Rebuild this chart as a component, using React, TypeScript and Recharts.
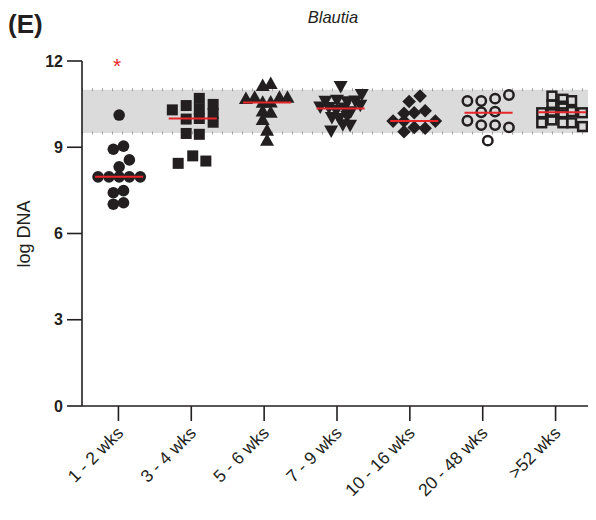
import React from 'react';
import { ScatterChart, Scatter, XAxis, YAxis, ReferenceArea, ReferenceLine } from 'recharts';

const categories = ['1 - 2 wks', '3 - 4 wks', '5 - 6 wks', '7 - 9 wks', '10 - 16 wks', '20 - 48 wks', '>52 wks'];
const xTicks = [1, 2, 3, 4, 5, 6, 7];
const yTicks = [0, 3, 6, 9, 12];

const wk1to2 = [
  { x: 1.01, y: 10.12 }, { x: 0.93, y: 8.93 }, { x: 1.07, y: 9.04 }, { x: 1.15, y: 8.56 },
  { x: 1.01, y: 8.32 }, { x: 0.72, y: 7.97 }, { x: 0.87, y: 7.97 }, { x: 1.01, y: 7.97 },
  { x: 1.15, y: 7.97 }, { x: 1.30, y: 7.97 }, { x: 0.93, y: 7.42 }, { x: 1.07, y: 7.49 },
  { x: 0.93, y: 7.02 }, { x: 1.07, y: 7.07 },
];
const wk3to4 = [
  { x: 1.74, y: 10.30 }, { x: 1.93, y: 10.45 }, { x: 1.93, y: 9.98 }, { x: 1.93, y: 9.48 },
  { x: 2.11, y: 10.70 }, { x: 2.11, y: 10.33 }, { x: 2.11, y: 10.0 }, { x: 2.11, y: 9.45 },
  { x: 2.30, y: 10.49 }, { x: 2.30, y: 10.18 }, { x: 2.30, y: 9.87 }, { x: 1.82, y: 8.44 },
  { x: 2.02, y: 8.70 }, { x: 2.20, y: 8.52 },
];
const wk5to6 = [
  { x: 2.98, y: 11.13 }, { x: 3.09, y: 11.2 }, { x: 2.75, y: 10.68 }, { x: 2.87, y: 10.72 },
  { x: 2.98, y: 10.55 }, { x: 3.09, y: 10.56 }, { x: 3.21, y: 10.72 }, { x: 3.32, y: 10.72 },
  { x: 2.98, y: 10.24 }, { x: 3.09, y: 10.2 }, { x: 2.98, y: 9.95 }, { x: 3.04, y: 9.57 },
  { x: 3.04, y: 9.23 },
];
const wk7to9 = [
  { x: 4.05, y: 11.13 }, { x: 3.84, y: 10.62 }, { x: 4.0, y: 10.65 }, { x: 4.14, y: 10.60 },
  { x: 4.25, y: 10.63 }, { x: 4.34, y: 10.85 }, { x: 3.77, y: 10.42 }, { x: 3.89, y: 10.40 },
  { x: 3.99, y: 10.30 }, { x: 4.10, y: 10.38 }, { x: 4.19, y: 10.25 }, { x: 4.32, y: 10.48 },
  { x: 3.93, y: 10.05 }, { x: 4.03, y: 10.02 }, { x: 4.14, y: 10.1 }, { x: 4.08, y: 9.80 },
  { x: 4.18, y: 9.78 }, { x: 3.92, y: 9.58 },
];
const wk10to16 = [
  { x: 4.99, y: 10.59 }, { x: 5.14, y: 10.78 }, { x: 4.92, y: 10.18 }, { x: 5.06, y: 10.2 },
  { x: 5.21, y: 10.27 }, { x: 4.77, y: 9.91 }, { x: 4.92, y: 9.91 }, { x: 5.35, y: 9.91 },
  { x: 4.92, y: 9.54 }, { x: 5.06, y: 9.69 }, { x: 5.21, y: 9.66 },
];
const wk20to48 = [
  { x: 5.79, y: 10.61 }, { x: 5.98, y: 10.61 }, { x: 6.17, y: 10.69 }, { x: 6.36, y: 10.82 },
  { x: 5.98, y: 10.22 }, { x: 6.17, y: 10.24 }, { x: 5.79, y: 9.92 }, { x: 5.98, y: 9.77 },
  { x: 6.17, y: 9.77 }, { x: 6.36, y: 9.69 }, { x: 6.07, y: 9.23 },
];
const wk52plus = [
  { x: 6.95, y: 10.78 }, { x: 7.10, y: 10.67 }, { x: 7.22, y: 10.62 }, { x: 6.95, y: 10.47 },
  { x: 7.10, y: 10.43 }, { x: 6.81, y: 10.20 }, { x: 6.95, y: 10.22 }, { x: 7.10, y: 10.20 },
  { x: 7.22, y: 10.24 }, { x: 7.37, y: 10.20 }, { x: 6.81, y: 9.85 }, { x: 6.95, y: 9.95 },
  { x: 7.10, y: 9.85 }, { x: 7.22, y: 9.85 }, { x: 7.37, y: 9.72 },
];

const medians = [7.97, 10.0, 10.56, 10.35, 9.91, 10.2, 10.22];
const medianCenters = [1.01, 2.02, 3.04, 4.05, 5.06, 6.08, 7.09];
const medianHalfWidth = 0.33;
const normalRange = [9.5, 11];
const significance = [{ x: 0.98, y: 11.93 }];

const INK = '#231f20';
const RED = '#e8262a';
const FONT = '"Liberation Sans", Arial, Helvetica, sans-serif';

const FilledCircle = (p: any) => <circle cx={p.cx} cy={p.cy} r={5.8} fill={INK} />;
const FilledSquare = (p: any) => <rect x={p.cx - 5.5} y={p.cy - 5.5} width={11} height={11} fill={INK} />;
const UpTri = (p: any) => (
  <polygon points={`${p.cx},${p.cy - 7.5} ${p.cx - 7},${p.cy + 5} ${p.cx + 7},${p.cy + 5}`} fill={INK} />
);
const DownTri = (p: any) => (
  <polygon points={`${p.cx - 7},${p.cy - 5} ${p.cx + 7},${p.cy - 5} ${p.cx},${p.cy + 7.5}`} fill={INK} />
);
const Diamond = (p: any) => (
  <polygon points={`${p.cx},${p.cy - 6.8} ${p.cx + 6.8},${p.cy} ${p.cx},${p.cy + 6.8} ${p.cx - 6.8},${p.cy}`} fill={INK} />
);
const OpenCircle = (p: any) => <circle cx={p.cx} cy={p.cy} r={4.7} fill="none" stroke={INK} strokeWidth={2.5} />;
const OpenSquare = (p: any) => (
  <rect x={p.cx - 4.4} y={p.cy - 4.4} width={8.8} height={8.8} fill="none" stroke={INK} strokeWidth={2.5} />
);
const Asterisk = (p: any) => (
  <text x={p.cx} y={p.cy + 10} textAnchor="middle" fontSize={21} fill={RED} fontFamily={FONT}>*</text>
);
const NoMark = () => null;

const XTick = (props: any) => {
  const { x, y, payload } = props;
  const label = categories[payload.value - 1];
  const ax = x + 6;
  const ay = y + 11;
  return (
    <text x={ax} y={ay} transform={`rotate(-45, ${ax}, ${ay})`} textAnchor="end" fontSize={17.5}
      fill={INK} fontFamily={FONT}>{label}</text>
  );
};

export default function App() {
  return (
    <div style={{ position: 'relative', width: 588, height: 512, fontFamily: FONT }}>
      <div style={{ position: 'absolute', left: 0, top: 3, fontSize: 26, fontWeight: 'bold', color: INK, lineHeight: 1 }}>(E)</div>
      <div style={{ position: 'absolute', left: 250, width: 150, textAlign: 'center', top: 1, fontSize: 16.5, fontStyle: 'italic', color: INK, lineHeight: 1 }}>Blautia</div>
      <div style={{ position: 'absolute', left: 16, top: 226, transform: 'translate(-50%, -50%) rotate(-90deg)', fontSize: 18, color: INK, whiteSpace: 'nowrap', lineHeight: 1 }}>log DNA</div>
      <ScatterChart width={588} height={512} margin={{ top: 53, right: 4, bottom: 0, left: 0 }}>
        <ReferenceArea y1={normalRange[0]} y2={normalRange[1]} fill="#dbdbdb" fillOpacity={1} stroke="none" />
        <ReferenceLine y={normalRange[0]} stroke="#a0a0a0" strokeWidth={3} strokeDasharray="1 9" />
        <ReferenceLine y={normalRange[1]} stroke="#a0a0a0" strokeWidth={3} strokeDasharray="1 9" />
        <XAxis type="number" dataKey="x" domain={[0.5, 7.5]} ticks={xTicks} interval={0} height={114}
          axisLine={{ stroke: INK, strokeWidth: 1.6 }} tickLine={{ stroke: INK, strokeWidth: 1.6 }} tickSize={15}
          tick={<XTick />} allowDataOverflow />
        <YAxis type="number" dataKey="y" domain={[0, 12]} ticks={yTicks} width={74} interval={0}
          axisLine={{ stroke: INK, strokeWidth: 1.6 }} tickLine={{ stroke: INK, strokeWidth: 1.6 }} tickSize={15} tickMargin={4}
          tick={{ fontSize: 16, fontWeight: 'bold', fill: INK, fontFamily: FONT }} />
        <Scatter data={wk1to2} shape={FilledCircle} isAnimationActive={false} />
        <Scatter data={wk3to4} shape={FilledSquare} isAnimationActive={false} />
        <Scatter data={wk5to6} shape={UpTri} isAnimationActive={false} />
        <Scatter data={wk7to9} shape={DownTri} isAnimationActive={false} />
        <Scatter data={wk10to16} shape={Diamond} isAnimationActive={false} />
        <Scatter data={wk20to48} shape={OpenCircle} isAnimationActive={false} />
        <Scatter data={wk52plus} shape={OpenSquare} isAnimationActive={false} />
        <Scatter data={significance} shape={Asterisk} isAnimationActive={false} />
        {medians.map((m, i) => (
          <Scatter key={i}
            data={[{ x: medianCenters[i] - medianHalfWidth, y: m }, { x: medianCenters[i] + medianHalfWidth, y: m }]}
            line={{ stroke: RED, strokeWidth: 2 }} shape={NoMark} isAnimationActive={false} />
        ))}
      </ScatterChart>
    </div>
  );
}
